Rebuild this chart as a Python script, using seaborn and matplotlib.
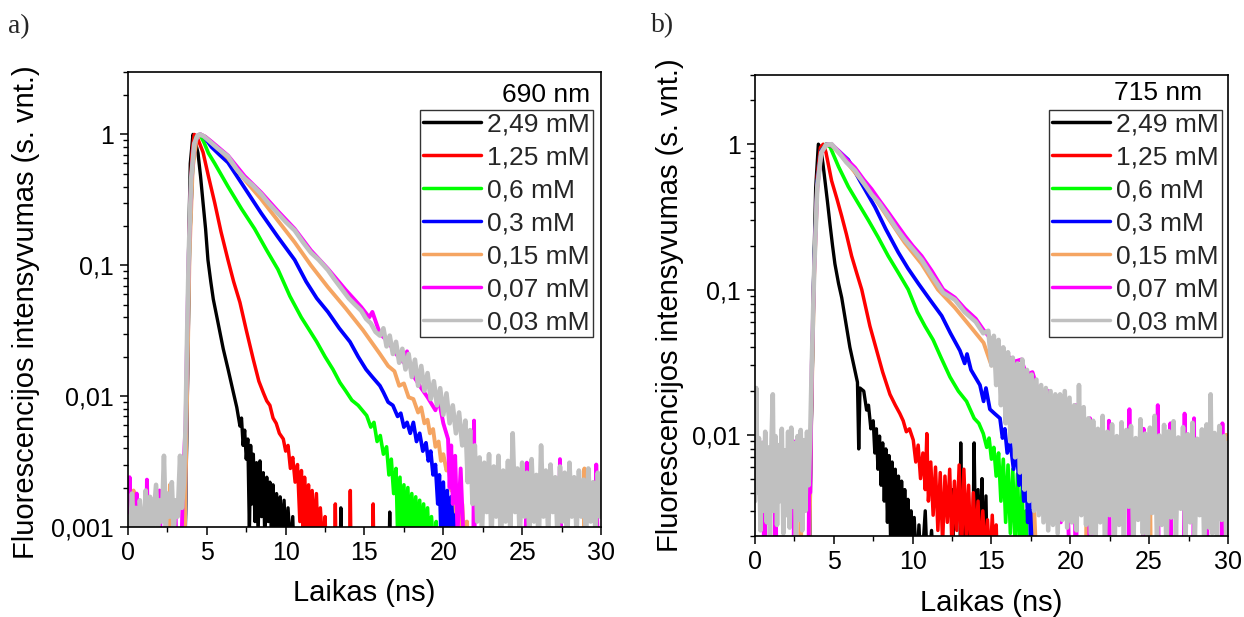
import pandas as pd
import matplotlib
matplotlib.use('Agg')
import matplotlib.pyplot as plt
import matplotlib.ticker as mticker
from matplotlib.lines import Line2D
import seaborn as sns

conc_labels = ['2,49 mM', '1,25 mM', '0,6 mM', '0,3 mM', '0,15 mM', '0,07 mM', '0,03 mM']
line_colors = ['#000000', '#ff0000', '#00ff00', '#0000ff', '#f5a562', '#ff00ff', '#c0c0c0']
line_widths = [2.4, 2.5, 2.6, 2.7, 2.8, 2.8, 3.3]

x_ticks = [0, 5, 10, 15, 20, 25, 30]
a_yticks = [0.001, 0.01, 0.1, 1]
a_yticklabels = ['0,001', '0,01', '0,1', '1']
b_yticks = [0.01, 0.1, 1]
b_yticklabels = ['0,01', '0,1', '1']

# ---- 690 nm, panel a) : (time in ns, normalised intensity)
a_249 = [(0.0, 0.0006), (3.6, 0.0006), (3.75, 0.01), (3.85, 0.15), (3.95, 0.6), (4.12, 1.0),
         (4.25, 0.9), (4.44, 0.72), (4.6, 0.48), (4.76, 0.3), (4.92, 0.19), (5.07, 0.11),
         (5.25, 0.075), (5.41, 0.055), (5.66, 0.039), (6.04, 0.023), (6.35, 0.016), (6.68, 0.0107),
         (6.9, 0.0082), (7.1, 0.0059), (7.2, 0.0068), (7.3, 0.0042), (7.4, 0.0055), (7.5, 0.0033),
         (7.6, 0.0047), (7.7, 0.0009), (7.78, 0.0042), (7.86, 0.0015), (7.95, 0.0036), (8.05, 0.0011),
         (8.15, 0.0031), (8.25, 0.0009), (8.37, 0.0032), (8.47, 0.0012), (8.58, 0.0026), (8.68, 0.0008),
         (8.8, 0.0024), (8.9, 0.0011), (9.0, 0.0022), (9.1, 0.0008), (9.2, 0.0021), (9.3, 0.001),
         (9.42, 0.0018), (9.52, 0.0008), (9.65, 0.0017), (9.75, 0.0009), (9.9, 0.0016), (10.0, 0.0008),
         (10.15, 0.0014), (10.3, 0.0007), (10.45, 0.0012), (10.55, 0.0005), (13.45, 0.0005),
         (13.5, 0.0014), (13.55, 0.0005), (16.55, 0.0005), (16.6, 0.0013), (16.65, 0.0005), (30.0, 0.0005)]

a_125 = [(0.0, 0.0006), (3.6, 0.0006), (3.75, 0.01), (3.9, 0.2), (4.05, 0.7), (4.2, 1.0),
         (4.35, 0.97), (4.5, 0.88), (4.76, 0.73), (5.1, 0.48), (5.5, 0.3), (5.9, 0.18), (6.34, 0.11),
         (6.7, 0.075), (7.1, 0.052), (7.5, 0.032), (7.95, 0.019), (8.3, 0.013), (8.6, 0.0105),
         (8.8, 0.0092), (9.0, 0.0085), (9.2, 0.0068), (9.4, 0.0062), (9.6, 0.0052), (9.85, 0.0047),
         (10.0, 0.0038), (10.15, 0.0042), (10.3, 0.0028), (10.45, 0.0034), (10.6, 0.0022), (10.75, 0.003),
         (10.9, 0.0011), (11.0, 0.0027), (11.1, 0.0009), (11.2, 0.0024), (11.32, 0.001), (11.45, 0.0021),
         (11.55, 0.0008), (11.68, 0.0019), (11.8, 0.0009), (11.95, 0.0018), (12.05, 0.0008), (12.2, 0.0014),
         (12.35, 0.0007), (12.5, 0.0012), (12.6, 0.0005), (13.1, 0.0005), (13.15, 0.0015), (13.2, 0.0005),
         (14.05, 0.0005), (14.1, 0.0019), (14.15, 0.0005), (15.5, 0.0005), (15.55, 0.0015),
         (15.6, 0.0005), (30.0, 0.0005)]

a_06 = [(0.0, 0.0006), (3.6, 0.0006), (3.75, 0.01), (3.9, 0.15), (4.1, 0.6), (4.3, 0.95),
        (4.55, 1.0), (4.8, 0.88), (5.1, 0.72), (5.5, 0.6), (6.34, 0.4), (7.2, 0.27), (8.03, 0.19),
        (8.8, 0.13), (9.51, 0.093), (10.27, 0.058), (10.99, 0.04), (11.5, 0.032), (11.97, 0.026),
        (12.5, 0.02), (13.0, 0.016), (13.44, 0.0127), (13.8, 0.011), (14.2, 0.0093), (14.6, 0.0085),
        (15.14, 0.0071), (15.4, 0.0058), (15.6, 0.0063), (15.8, 0.0045), (16.0, 0.005), (16.2, 0.0036),
        (16.4, 0.0041), (16.55, 0.0025), (16.7, 0.0033), (16.85, 0.0018), (17.0, 0.0028), (17.1, 0.0009),
        (17.25, 0.0024), (17.35, 0.0009), (17.5, 0.0021), (17.6, 0.0008), (17.75, 0.002), (17.85, 0.0008),
        (18.0, 0.0018), (18.1, 0.0008), (18.25, 0.0017), (18.35, 0.0008), (18.5, 0.0016), (18.6, 0.0007),
        (18.75, 0.0015), (18.85, 0.0007), (19.0, 0.0014), (19.1, 0.0007), (19.25, 0.0012), (19.4, 0.0006),
        (19.55, 0.0011), (19.65, 0.0005), (30.0, 0.0005)]

a_03 = [(0.0, 0.0006), (3.6, 0.0006), (3.75, 0.01), (3.9, 0.15), (4.1, 0.6), (4.35, 0.95),
        (4.6, 1.0), (4.86, 0.95), (5.3, 0.8), (5.8, 0.7), (6.34, 0.61), (7.4, 0.39), (8.45, 0.25),
        (9.5, 0.165), (10.57, 0.11), (11.3, 0.075), (11.97, 0.056), (12.68, 0.044), (13.4, 0.033),
        (14.08, 0.026), (14.6, 0.02), (15.1, 0.016), (15.5, 0.014), (15.98, 0.012), (16.2, 0.0107),
        (16.5, 0.009), (16.8, 0.0085), (17.1, 0.007), (17.3, 0.0074), (17.5, 0.0058), (17.7, 0.0063),
        (17.9, 0.0052), (18.1, 0.0063), (18.3, 0.0045), (18.5, 0.0052), (18.7, 0.0038), (18.9, 0.0044),
        (19.05, 0.0032), (19.2, 0.0038), (19.35, 0.0025), (19.5, 0.003), (19.65, 0.0015), (19.75, 0.0025),
        (19.85, 0.0009), (20.0, 0.0022), (20.1, 0.0009), (20.25, 0.0019), (20.35, 0.0008), (20.5, 0.0017),
        (20.6, 0.0008), (20.75, 0.0015), (20.85, 0.0007), (21.0, 0.0013), (21.1, 0.0006), (21.3, 0.0011),
        (21.4, 0.0005), (30.0, 0.0005)]

a_015 = [(0.0, 0.0006), (0.3, 0.0006), (0.35, 0.0019), (0.4, 0.0006), (2.6, 0.0006), (2.66, 0.0021),
         (2.72, 0.0006), (3.6, 0.0008), (3.75, 0.01), (3.9, 0.12), (4.1, 0.55), (4.35, 0.93), (4.6, 1.0),
         (4.9, 0.96), (5.4, 0.85), (6.34, 0.66), (7.4, 0.45), (8.45, 0.32), (9.5, 0.22), (10.57, 0.15),
         (11.6, 0.1), (12.68, 0.068), (13.8, 0.047), (14.9, 0.032), (15.98, 0.021), (16.5, 0.017),
         (16.9, 0.0155), (17.2, 0.012), (17.5, 0.0125), (17.8, 0.0098), (18.1, 0.0095), (18.4, 0.0075),
         (18.6, 0.0082), (18.8, 0.0062), (19.0, 0.0066), (19.15, 0.0052), (19.35, 0.0056), (19.5, 0.0041),
         (19.7, 0.0045), (19.85, 0.0032), (20.0, 0.0036), (20.2, 0.0027), (20.35, 0.003), (20.5, 0.0019),
         (20.65, 0.0024), (20.8, 0.0013), (20.95, 0.0018), (21.05, 0.0009), (21.2, 0.0015), (21.35, 0.0007),
         (21.5, 0.0011), (21.6, 0.0005), (28.9, 0.0005), (28.95, 0.0028), (29.0, 0.0005), (30.0, 0.0005)]

a_007 = [(0.0, 0.0007), (0.1, 0.0024), (0.2, 0.0006), (0.5, 0.0006), (0.55, 0.0018), (0.6, 0.0006),
         (1.15, 0.0006), (1.2, 0.0023), (1.3, 0.0007), (1.9, 0.0006), (2.0, 0.0019), (2.1, 0.0006),
         (2.95, 0.0006), (3.0, 0.0014), (3.1, 0.0006), (3.4, 0.0008), (3.5, 0.0025), (3.65, 0.006),
         (3.75, 0.03), (3.85, 0.12), (4.0, 0.45), (4.2, 0.85), (4.45, 0.99), (4.6, 1.0), (4.9, 0.96),
         (5.3, 0.88), (6.34, 0.69), (7.4, 0.48), (8.45, 0.36), (9.5, 0.26), (10.57, 0.19), (11.6, 0.13),
         (12.68, 0.094), (13.8, 0.065), (14.79, 0.048), (15.3, 0.04), (15.5, 0.044), (15.98, 0.03),
         (16.5, 0.026), (17.0, 0.021), (17.5, 0.018), (17.7, 0.022), (18.0, 0.015), (18.5, 0.012),
         (19.0, 0.0098), (19.5, 0.0078), (19.7, 0.0095), (20.0, 0.0062), (20.3, 0.0047), (20.4, 0.002),
         (20.5, 0.0042), (20.6, 0.0015), (20.75, 0.0035), (20.9, 0.0009), (21.1, 0.0028), (21.3, 0.0007),
         (21.9, 0.0006), (21.95, 0.0065), (22.0, 0.0006), (25.2, 0.0006), (25.3, 0.0031), (25.4, 0.0006),
         (27.3, 0.0006), (27.4, 0.0033), (27.5, 0.0006), (29.6, 0.0006), (29.7, 0.003), (29.8, 0.0006),
         (30.0, 0.0006)]

a_003 = [(0.0, 0.0012), (0.12, 0.0008), (0.25, 0.0018), (0.38, 0.0009), (0.5, 0.0014), (0.62, 0.0007),
         (0.75, 0.0016), (0.88, 0.0011), (1.0, 0.0007), (1.12, 0.0019), (1.25, 0.0009), (1.4, 0.0017),
         (1.52, 0.0008), (1.65, 0.0013), (1.78, 0.0021), (1.9, 0.0009), (2.02, 0.0016), (2.15, 0.0011),
         (2.28, 0.0035), (2.4, 0.001), (2.52, 0.0018), (2.65, 0.0012), (2.78, 0.0022), (2.9, 0.0009),
         (3.02, 0.0016), (3.15, 0.0012), (3.3, 0.0035), (3.42, 0.0014), (3.55, 0.0022), (3.65, 0.006),
         (3.75, 0.03), (3.85, 0.12), (4.0, 0.45), (4.2, 0.85), (4.4, 0.98), (4.55, 1.0), (4.8, 0.97),
         (5.2, 0.88), (5.7, 0.78), (6.34, 0.68), (6.9, 0.54), (7.4, 0.46), (7.9, 0.41), (8.45, 0.35),
         (8.9, 0.3), (9.5, 0.25), (10.0, 0.215), (10.57, 0.185), (11.1, 0.15), (11.6, 0.125), (12.1, 0.11),
         (12.68, 0.092), (13.1, 0.078), (13.6, 0.065), (14.0, 0.056), (14.4, 0.05), (14.79, 0.045),
         (15.1, 0.039), (15.4, 0.036), (15.7, 0.031), (15.98, 0.029), (16.2, 0.033), (16.4, 0.024),
         (16.6, 0.029), (16.8, 0.021), (17.0, 0.026), (17.2, 0.018), (17.4, 0.023), (17.6, 0.016),
         (17.8, 0.021), (18.0, 0.014), (18.2, 0.019), (18.4, 0.012), (18.6, 0.017), (18.8, 0.011),
         (19.0, 0.015), (19.2, 0.0095), (19.4, 0.013), (19.6, 0.0085), (19.8, 0.0115), (20.0, 0.0072),
         (20.2, 0.0105), (20.4, 0.0062), (20.6, 0.0085), (20.8, 0.0052), (21.0, 0.0075), (21.2, 0.0042),
         (21.4, 0.0065), (21.55, 0.0022), (21.7, 0.0055), (21.85, 0.0015), (22.0, 0.0042), (22.15, 0.0011),
         (22.3, 0.0034), (22.45, 0.0009), (22.6, 0.0031), (22.75, 0.0013), (22.9, 0.0036), (23.05, 0.0008),
         (23.2, 0.0029), (23.35, 0.0012), (23.5, 0.0035), (23.65, 0.0007), (23.8, 0.0027), (23.95, 0.0011),
         (24.1, 0.0032), (24.25, 0.0009), (24.4, 0.0052), (24.55, 0.0013), (24.7, 0.0028), (24.85, 0.0008),
         (25.0, 0.0031), (25.15, 0.0012), (25.3, 0.0026), (25.45, 0.0009), (25.6, 0.0033), (25.75, 0.0011),
         (25.9, 0.0025), (26.05, 0.0007), (26.2, 0.0042), (26.35, 0.0012), (26.5, 0.0027), (26.65, 0.0009),
         (26.8, 0.003), (26.95, 0.0013), (27.1, 0.0024), (27.25, 0.0008), (27.4, 0.0029), (27.55, 0.0011),
         (27.7, 0.0026), (27.85, 0.0007), (28.0, 0.0031), (28.15, 0.0012), (28.3, 0.0024), (28.45, 0.0009),
         (28.6, 0.0027), (28.75, 0.0012), (28.9, 0.0023), (29.05, 0.0008), (29.2, 0.0028), (29.35, 0.0011),
         (29.5, 0.0022), (29.65, 0.0009), (29.8, 0.0026), (29.95, 0.0012)]

# ---- 715 nm, panel b)
b_249 = [(0.0, 0.0015), (3.45, 0.0015), (3.55, 0.01), (3.7, 0.1), (3.85, 0.5), (4.02, 1.0),
         (4.15, 0.95), (4.3, 0.75), (4.44, 0.56), (4.6, 0.4), (4.76, 0.28), (4.92, 0.2), (5.07, 0.15),
         (5.3, 0.11), (5.5, 0.088), (5.81, 0.055), (6.02, 0.04), (6.3, 0.029), (6.5, 0.023), (6.58, 0.008),
         (6.66, 0.021), (6.9, 0.02), (7.08, 0.0148), (7.2, 0.016), (7.35, 0.011), (7.5, 0.0125),
         (7.6, 0.0075), (7.7, 0.011), (7.8, 0.0058), (7.9, 0.0098), (8.0, 0.0045), (8.1, 0.0088),
         (8.2, 0.0035), (8.3, 0.008), (8.4, 0.0025), (8.5, 0.0072), (8.6, 0.0019), (8.7, 0.0065),
         (8.8, 0.0015), (8.9, 0.0058), (9.0, 0.0018), (9.1, 0.0052), (9.2, 0.0014), (9.3, 0.0048),
         (9.4, 0.0015), (9.5, 0.0042), (9.6, 0.0014), (9.7, 0.0036), (9.8, 0.0013), (9.9, 0.003),
         (10.0, 0.0012), (10.1, 0.0027), (10.25, 0.0012), (10.4, 0.0024), (10.55, 0.0011), (10.8, 0.003),
         (10.95, 0.0011), (11.2, 0.0022), (11.4, 0.001), (12.5, 0.001), (12.55, 0.0042), (12.6, 0.001),
         (13.0, 0.001), (13.05, 0.0088), (13.1, 0.002), (13.25, 0.0035), (13.4, 0.0012), (13.6, 0.0025),
         (13.8, 0.0012), (13.9, 0.0088), (14.0, 0.0015), (14.15, 0.0042), (14.3, 0.0016), (14.4, 0.005),
         (14.5, 0.0012), (14.65, 0.0038), (14.75, 0.001), (30.0, 0.001)]

b_125 = [(0.0, 0.0015), (3.45, 0.0015), (3.55, 0.01), (3.75, 0.15), (3.95, 0.6), (4.15, 0.95),
         (4.33, 1.0), (4.5, 0.88), (4.86, 0.56), (5.2, 0.42), (5.5, 0.32), (5.8, 0.24), (6.13, 0.17),
         (6.45, 0.13), (6.77, 0.1), (7.29, 0.056), (7.72, 0.038), (8.1, 0.027), (8.56, 0.019), (8.9, 0.016),
         (9.19, 0.014), (9.4, 0.0125), (9.6, 0.0105), (9.8, 0.011), (10.04, 0.0092), (10.2, 0.0065),
         (10.35, 0.0085), (10.5, 0.005), (10.65, 0.0075), (10.8, 0.0042), (10.9, 0.0102), (11.0, 0.0035),
         (11.15, 0.0065), (11.3, 0.0028), (11.45, 0.006), (11.6, 0.0022), (11.75, 0.0055), (11.9, 0.0018),
         (12.05, 0.0052), (12.2, 0.0025), (12.35, 0.0058), (12.5, 0.0016), (12.65, 0.0048), (12.8, 0.0022),
         (12.95, 0.0062), (13.1, 0.0015), (13.25, 0.0058), (13.4, 0.002), (13.55, 0.0045), (13.7, 0.0014),
         (13.85, 0.004), (14.0, 0.0018), (14.15, 0.0035), (14.3, 0.0013), (14.45, 0.003), (14.6, 0.0015),
         (14.75, 0.0026), (14.9, 0.0012), (15.05, 0.0028), (15.2, 0.0011), (15.3, 0.0024), (15.4, 0.001),
         (30.0, 0.001)]

b_06 = [(0.0, 0.0015), (3.45, 0.0015), (3.55, 0.01), (3.75, 0.15), (3.95, 0.55), (4.2, 0.9),
        (4.5, 1.0), (4.76, 0.96), (5.3, 0.7), (5.92, 0.51), (6.5, 0.4), (7.19, 0.3), (7.8, 0.23),
        (8.45, 0.17), (9.1, 0.13), (9.72, 0.1), (10.3, 0.07), (10.78, 0.056), (11.3, 0.045), (11.8, 0.034),
        (12.37, 0.025), (12.9, 0.02), (13.42, 0.017), (13.9, 0.013), (14.2, 0.012), (14.48, 0.0102),
        (14.7, 0.0082), (14.85, 0.0095), (15.0, 0.0068), (15.15, 0.0082), (15.3, 0.0052), (15.45, 0.0075),
        (15.6, 0.0035), (15.75, 0.0068), (15.9, 0.0025), (16.05, 0.0062), (16.2, 0.0021), (16.35, 0.0058),
        (16.5, 0.0018), (16.65, 0.0054), (16.8, 0.0015), (16.95, 0.0045), (17.05, 0.0012), (17.2, 0.003),
        (17.3, 0.001), (30.0, 0.001)]

b_03 = [(0.0, 0.0015), (3.45, 0.0015), (3.55, 0.01), (3.75, 0.15), (3.95, 0.55), (4.2, 0.9),
        (4.55, 1.0), (4.86, 0.97), (5.3, 0.9), (5.92, 0.78), (6.7, 0.55), (7.61, 0.37), (8.3, 0.26),
        (9.09, 0.18), (9.7, 0.14), (10.36, 0.11), (11.1, 0.085), (11.84, 0.066), (12.4, 0.05), (13.0, 0.038),
        (13.3, 0.031), (13.45, 0.036), (13.7, 0.028), (14.27, 0.022), (14.5, 0.017), (14.65, 0.021),
        (14.9, 0.015), (15.2, 0.014), (15.54, 0.013), (15.7, 0.0095), (15.85, 0.011), (16.0, 0.0075),
        (16.2, 0.0088), (16.4, 0.0058), (16.6, 0.0079), (16.75, 0.0045), (16.9, 0.0065), (17.05, 0.0035),
        (17.2, 0.0055), (17.3, 0.0025), (17.4, 0.0045), (17.5, 0.0015), (17.6, 0.003), (17.7, 0.001),
        (30.0, 0.001)]

b_015 = [(0.0, 0.0015), (2.85, 0.0015), (2.9, 0.0035), (2.95, 0.0015), (3.45, 0.0015), (3.55, 0.01),
         (3.75, 0.12), (3.95, 0.5), (4.2, 0.88), (4.6, 1.0), (4.9, 0.97), (5.5, 0.83), (6.34, 0.64),
         (7.4, 0.46), (8.45, 0.31), (9.5, 0.21), (10.57, 0.15), (11.6, 0.1), (12.68, 0.075), (13.7, 0.055),
         (14.5, 0.043), (15.0, 0.03), (15.2, 0.036), (15.5, 0.022), (15.8, 0.028), (16.1, 0.015),
         (16.3, 0.02), (16.6, 0.009), (16.8, 0.014), (17.0, 0.006), (17.2, 0.0095), (17.4, 0.004),
         (17.6, 0.006), (17.8, 0.0018), (18.0, 0.0015), (21.0, 0.0015), (21.05, 0.0075), (21.1, 0.0015),
         (25.0, 0.0015), (25.05, 0.0065), (25.1, 0.0015), (29.85, 0.0015), (29.9, 0.01), (29.95, 0.0015),
         (30.0, 0.0015)]

b_007 = [(0.0, 0.0015), (0.55, 0.0015), (0.6, 0.009), (0.65, 0.0015), (1.25, 0.0015), (1.3, 0.0085),
         (1.35, 0.0015), (2.45, 0.0015), (2.5, 0.009), (2.55, 0.0015), (3.4, 0.0015), (3.45, 0.0095),
         (3.5, 0.004), (3.6, 0.03), (3.75, 0.13), (3.95, 0.5), (4.2, 0.87), (4.5, 0.99), (4.86, 1.0),
         (5.3, 0.9), (5.9, 0.77), (6.34, 0.69), (6.9, 0.57), (7.4, 0.49), (7.9, 0.41), (8.45, 0.34),
         (9.0, 0.28), (9.5, 0.235), (10.0, 0.2), (10.57, 0.17), (11.2, 0.135), (11.94, 0.1), (12.68, 0.088),
         (13.3, 0.074), (14.0, 0.063), (14.48, 0.053), (15.0, 0.045), (15.5, 0.04), (16.0, 0.035),
         (16.5, 0.032), (16.9, 0.033), (17.2, 0.026), (17.6, 0.027), (17.9, 0.021), (18.2, 0.0035),
         (18.3, 0.019), (18.6, 0.02), (18.8, 0.003), (19.0, 0.017), (19.4, 0.0025), (19.6, 0.016),
         (19.9, 0.002), (20.3, 0.0015), (20.35, 0.016), (20.4, 0.0015), (21.2, 0.0015), (21.25, 0.013),
         (21.3, 0.0015), (22.4, 0.0015), (22.45, 0.0125), (22.5, 0.0015), (23.7, 0.0015), (23.75, 0.015),
         (23.8, 0.0015), (24.6, 0.0015), (24.65, 0.011), (24.7, 0.0015), (25.5, 0.0015), (25.55, 0.016),
         (25.6, 0.0015), (26.3, 0.0015), (26.35, 0.012), (26.4, 0.0015), (27.2, 0.0015), (27.25, 0.014),
         (27.3, 0.0015), (27.8, 0.0015), (27.85, 0.013), (27.9, 0.0015), (28.6, 0.0015), (28.65, 0.011),
         (28.7, 0.0015), (29.6, 0.0015), (29.65, 0.012), (29.7, 0.0015), (30.0, 0.0015)]

b_003 = [(0.0, 0.0035), (0.08, 0.021), (0.16, 0.004), (0.25, 0.0095), (0.35, 0.0022), (0.45, 0.0088),
         (0.55, 0.003), (0.65, 0.0105), (0.75, 0.0025), (0.85, 0.0082), (0.95, 0.0019), (1.05, 0.0092),
         (1.13, 0.019), (1.2, 0.003), (1.3, 0.0098), (1.4, 0.0024), (1.5, 0.0085), (1.6, 0.0035),
         (1.7, 0.011), (1.8, 0.0021), (1.9, 0.0078), (2.0, 0.0028), (2.1, 0.0105), (2.2, 0.0023),
         (2.3, 0.0112), (2.4, 0.0032), (2.5, 0.0088), (2.6, 0.0019), (2.7, 0.0098), (2.8, 0.0026),
         (2.9, 0.0108), (3.0, 0.0022), (3.1, 0.0092), (3.2, 0.003), (3.3, 0.0105), (3.4, 0.0045),
         (3.5, 0.0095), (3.6, 0.03), (3.75, 0.13), (3.95, 0.5), (4.2, 0.87), (4.5, 0.99), (4.86, 1.0),
         (5.3, 0.88), (5.8, 0.75), (6.34, 0.66), (6.9, 0.54), (7.4, 0.45), (7.9, 0.39), (8.45, 0.32),
         (9.0, 0.26), (9.5, 0.22), (10.0, 0.19), (10.57, 0.16), (11.2, 0.125), (11.94, 0.095),
         (12.68, 0.085), (13.3, 0.07), (14.0, 0.06), (14.48, 0.05), (14.8, 0.052), (15.0, 0.03),
         (15.15, 0.048), (15.3, 0.022), (15.45, 0.045), (15.6, 0.016), (15.75, 0.04), (15.9, 0.012),
         (16.05, 0.037), (16.2, 0.009), (16.35, 0.034), (16.5, 0.007), (16.65, 0.031), (16.8, 0.0055),
         (16.95, 0.033), (17.1, 0.0042), (17.25, 0.028), (17.4, 0.0035), (17.55, 0.026), (17.7, 0.003),
         (17.85, 0.024), (18.0, 0.0028), (18.15, 0.022), (18.3, 0.0025), (18.45, 0.021), (18.6, 0.0022),
         (18.75, 0.02), (18.9, 0.0024), (19.05, 0.019), (19.2, 0.0021), (19.35, 0.019), (19.5, 0.0026),
         (19.65, 0.02), (19.8, 0.0023), (19.95, 0.018), (20.1, 0.0025), (20.25, 0.016), (20.4, 0.0022),
         (20.55, 0.022), (20.7, 0.0028), (20.85, 0.0155), (21.0, 0.0024), (21.15, 0.013), (21.3, 0.0021),
         (21.45, 0.0125), (21.6, 0.0018), (21.75, 0.011), (21.9, 0.0025), (22.05, 0.0135), (22.2, 0.0017),
         (22.35, 0.0105), (22.5, 0.0028), (22.65, 0.0118), (22.8, 0.0015), (22.95, 0.0098), (23.1, 0.0024),
         (23.25, 0.0122), (23.4, 0.0019), (23.55, 0.0108), (23.7, 0.0032), (23.85, 0.0115), (24.0, 0.0017),
         (24.15, 0.0095), (24.3, 0.0026), (24.45, 0.0128), (24.6, 0.0021), (24.75, 0.0102), (24.9, 0.0016),
         (25.05, 0.0112), (25.2, 0.0029), (25.35, 0.0135), (25.5, 0.0018), (25.65, 0.0099), (25.8, 0.0024),
         (25.95, 0.0117), (26.1, 0.0015), (26.25, 0.0106), (26.4, 0.0027), (26.55, 0.0124), (26.7, 0.002),
         (26.85, 0.0096), (27.0, 0.0031), (27.15, 0.0113), (27.3, 0.0017), (27.45, 0.0101), (27.6, 0.0025),
         (27.75, 0.0121), (27.9, 0.0019), (28.05, 0.0094), (28.2, 0.0028), (28.35, 0.0109), (28.5, 0.0016),
         (28.65, 0.0118), (28.8, 0.0023), (28.9, 0.019), (29.0, 0.0021), (29.15, 0.0103), (29.3, 0.0018),
         (29.45, 0.0115), (29.6, 0.0026), (29.75, 0.0098), (29.9, 0.0017), (30.0, 0.0088)]


def to_frame(curves):
    rows = []
    for lab, pts in zip(conc_labels, curves):
        for t, v in pts:
            rows.append((lab, t, v))
    return pd.DataFrame(rows, columns=['conc', 't', 'y'])


df_a = to_frame([a_249, a_125, a_06, a_03, a_015, a_007, a_003])
df_b = to_frame([b_249, b_125, b_06, b_03, b_015, b_007, b_003])

sns.set_style('ticks')
plt.rcParams['font.family'] = ['Liberation Sans', 'DejaVu Sans']
plt.rcParams['axes.linewidth'] = 1.2


def draw_panel(ax, df, ylim, yticks, yticklabels, wl, leg_anchor, wl_xy, ylab_xy, xlab_y):
    sns.lineplot(data=df, x='t', y='y', hue='conc', hue_order=conc_labels, palette=line_colors,
                 size='conc', size_order=conc_labels, sizes=dict(zip(conc_labels, line_widths)),
                 estimator=None, sort=False, errorbar=None, ax=ax, legend=False)
    ax.set_yscale('log')
    ax.set_xlim(0, 30)
    ax.set_ylim(*ylim)
    ax.xaxis.set_major_locator(mticker.FixedLocator(x_ticks))
    ax.xaxis.set_minor_locator(mticker.MultipleLocator(2.5))
    ax.yaxis.set_major_locator(mticker.FixedLocator(yticks))
    ax.yaxis.set_major_formatter(mticker.FixedFormatter(yticklabels))
    ax.yaxis.set_minor_locator(mticker.LogLocator(base=10, subs=range(2, 10)))
    ax.yaxis.set_minor_formatter(mticker.NullFormatter())
    ax.tick_params(which='major', direction='out', length=6, width=1.1, labelsize=18, pad=4,
                   color='black', labelcolor='black')
    ax.tick_params(which='minor', direction='out', length=3.5, width=1.0, color='black')
    for sp in ax.spines.values():
        sp.set_visible(True)
        sp.set_color('black')
        sp.set_linewidth(1.2)

    ax.set_xlabel('Laikas (ns)', fontsize=21, color='black')
    ax.set_ylabel('Fluorescencijos intensyvumas (s. vnt.)', fontsize=21, color='black')
    ax.xaxis.set_label_coords(0.5, xlab_y)
    ax.yaxis.set_label_coords(*ylab_xy)

    handles = [Line2D([], [], color=c, lw=2.5) for c in line_colors]
    leg = ax.legend(handles, conc_labels, loc='upper right', bbox_to_anchor=leg_anchor,
                    fontsize=19, frameon=True, fancybox=False, edgecolor='#333333',
                    borderaxespad=0, borderpad=0.1, handlelength=2.2, handletextpad=0.25,
                    labelspacing=0.34)
    leg.get_frame().set_linewidth(1.0)
    leg.get_frame().set_alpha(1)
    ax.text(wl_xy[0], wl_xy[1], wl, transform=ax.transAxes, ha='right', va='center',
            fontsize=19, color='black')


fig = plt.figure(figsize=(12.44, 6.17), dpi=100)
ax_a = fig.add_axes([0.1029, 0.1459, 0.3802, 0.7374])
ax_b = fig.add_axes([0.6069, 0.1306, 0.3802, 0.7481])

draw_panel(ax_a, df_a, (0.001, 3), a_yticks, a_yticklabels, '690 nm',
           (0.9824, 0.9165), (0.977, 0.949), (-0.186, 0.4725), -0.114)
draw_panel(ax_b, df_b, (0.002, 3), b_yticks, b_yticklabels, '715 nm',
           (0.9867, 0.9237), (0.945, 0.9606), (-0.151, 0.50), -0.114)

fig.text(8 / 1244, 1 - 27 / 617, 'a)', ha='left', va='center', fontsize=20,
         family=['Liberation Serif', 'DejaVu Serif'])
fig.text(651 / 1244, 1 - 26 / 617, 'b)', ha='left', va='center', fontsize=20,
         family=['Liberation Serif', 'DejaVu Serif'])

fig.savefig('out.png', dpi=100)
